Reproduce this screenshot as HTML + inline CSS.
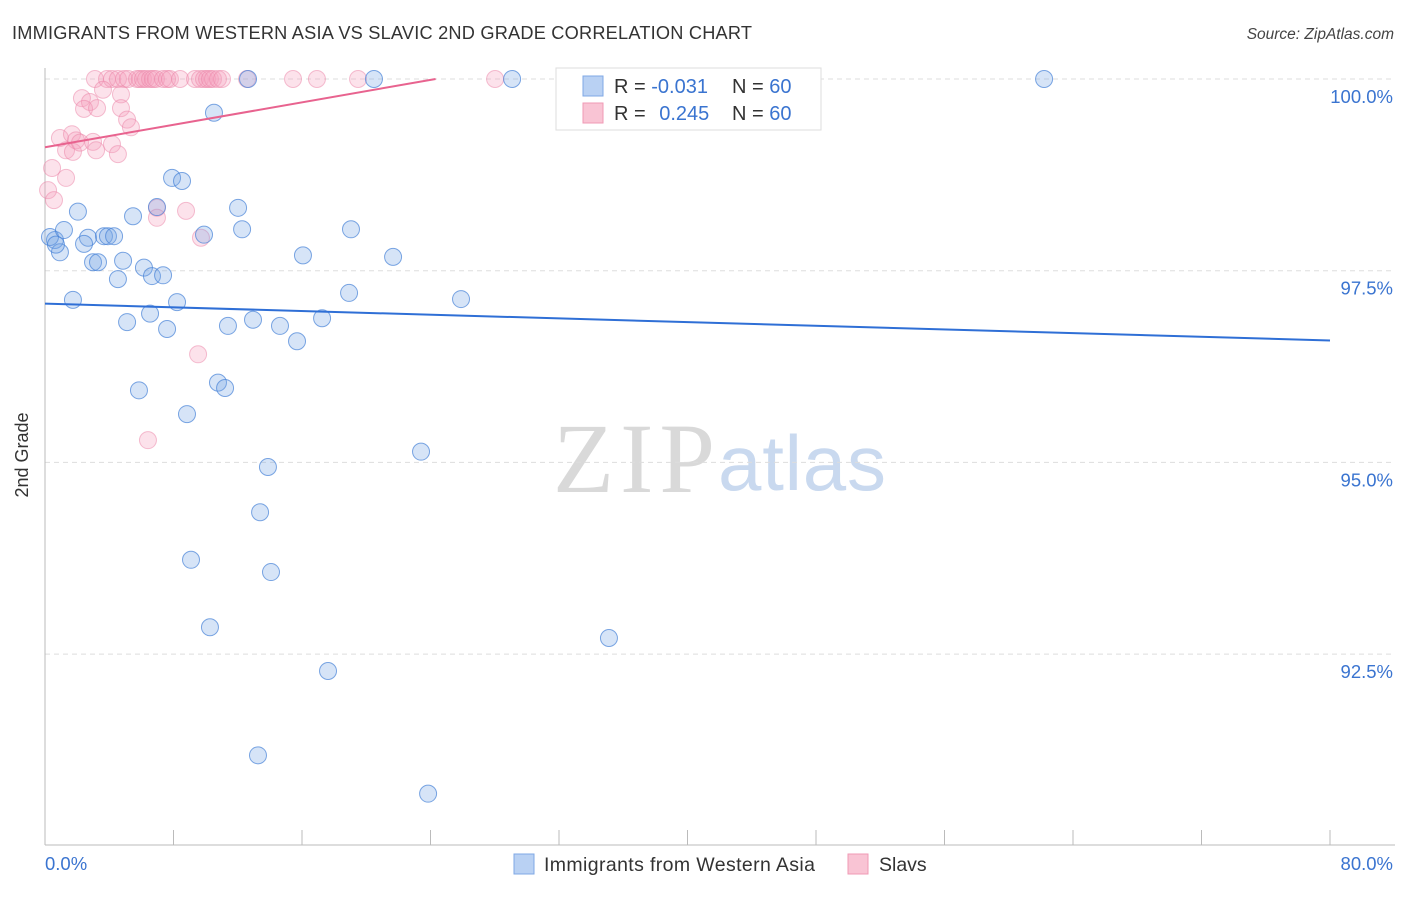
<!DOCTYPE html>
<html><head><meta charset="utf-8"><style>
body{margin:0;background:#fff;font-family:"Liberation Sans",sans-serif;}
</style></head><body>
<svg id="chart" width="1406" height="892" viewBox="0 0 1406 892" font-family="Liberation Sans, sans-serif">
<text x="12" y="39" font-size="18.2" fill="#333" textLength="740">IMMIGRANTS FROM WESTERN ASIA VS SLAVIC 2ND GRADE CORRELATION CHART</text>
<text x="1394" y="39" font-size="15.5" fill="#444" font-style="italic" text-anchor="end">Source: ZipAtlas.com</text>
<g>
<text x="553" y="492" font-size="100" fill="#d9d9d9" style="font-family:'Liberation Serif',serif" textLength="162">ZIP</text>
<text x="718" y="490" font-size="78" fill="#c9d9ef" textLength="168">atlas</text>
</g>
<g id="grid"></g>
<g id="axes"></g>
<g id="marks"></g>
<text x="28" y="455" font-size="18" fill="#333" text-anchor="middle" transform="rotate(-90 28 455)">2nd Grade</text>
<g>
<rect x="556" y="68" width="265" height="62" fill="#fff" stroke="#ddd"/>
<rect x="583" y="76" width="20" height="20" fill="#b9d1f3" stroke="#7fa8e6"/>
<rect x="583" y="103" width="20" height="20" fill="#f9c4d4" stroke="#f09ab5"/>
<text x="614" y="93" font-size="20" fill="#333">R = <tspan fill="#3a74d0">-0.031</tspan></text>
<text x="732" y="93" font-size="20" fill="#333">N = <tspan fill="#3a74d0">60</tspan></text>
<text x="614" y="120" font-size="20" fill="#333">R = <tspan fill="#3a74d0" dx="8">0.245</tspan></text>
<text x="732" y="120" font-size="20" fill="#333">N = <tspan fill="#3a74d0">60</tspan></text>
</g>
<g>
<rect x="514" y="854" width="20" height="20" fill="#b9d1f3" stroke="#7fa8e6"/>
<text x="544" y="871" font-size="19.5" fill="#333" textLength="271">Immigrants from Western Asia</text>
<rect x="848" y="854" width="20" height="20" fill="#f9c4d4" stroke="#f09ab5"/>
<text x="879" y="871" font-size="19.5" fill="#333">Slavs</text>
</g>
</svg>
<script>
const blueX=[0.62,0.93,0.31,2.05,1.18,2.68,2.43,1.74,2.99,3.30,3.67,3.92,4.30,4.54,4.86,5.11,5.48,5.85,6.16,6.54,6.66,6.97,7.35,7.60,7.91,8.22,8.53,8.84,9.09,9.90,10.27,10.52,10.77,11.21,11.39,12.02,12.27,12.64,12.95,13.39,13.88,14.07,14.63,15.69,16.06,17.25,17.62,18.93,19.05,20.48,21.67,23.41,23.85,25.90,29.08,35.11,42.27,62.20,13.26,0.68];
const blueY=[97.90,97.74,97.94,98.27,98.03,97.93,97.85,97.12,97.61,97.61,97.95,97.95,97.95,97.39,97.63,96.83,98.21,95.94,97.54,96.94,97.43,98.33,97.44,96.74,98.71,97.09,98.67,95.63,93.73,97.97,92.85,99.56,96.04,95.97,96.78,98.32,98.04,100,96.86,94.35,94.94,93.57,96.78,96.58,97.70,96.88,92.28,97.21,98.04,100,97.68,95.14,90.68,97.13,100,92.71,100,100,91.18,97.84];
const pinkX=[3.11,3.86,4.17,4.54,4.92,5.17,5.73,5.91,6.10,6.29,6.54,6.72,6.91,7.35,7.60,7.78,8.41,9.34,9.65,9.90,10.09,10.27,10.46,10.77,11.02,12.58,15.44,16.93,19.49,28.02,32.50,2.30,2.80,3.61,4.73,2.43,3.24,4.73,0.93,1.68,1.93,1.31,1.74,2.18,2.99,3.18,4.17,4.54,5.11,5.35,0.44,1.31,0.19,0.56,6.97,6.97,8.78,9.71,9.53,6.41];
const pinkY=[100,100,100,100,100,100,100,100,100,100,100,100,100,100,100,100,100,100,100,100,100,100,100,100,100,100,100,100,100,100,100,99.75,99.70,99.86,99.80,99.61,99.62,99.62,99.23,99.28,99.20,99.07,99.05,99.17,99.18,99.07,99.15,99.02,99.47,99.37,98.84,98.71,98.55,98.42,98.32,98.19,98.28,97.93,96.41,95.29];
const blueTrend=[97.07,-0.006];
const pinkTrend=[99.11,0.0366];
const yTicks=[100,97.5,95,92.5];
const yTickLabels=["100.0%","97.5%","95.0%","92.5%"];
const xTickLabels=["0.0%","80.0%"];

const NS="http://www.w3.org/2000/svg";
const X0=45,X1=1330,YTOP=79,PXPER=191.7/2.5;
function sx(v){return X0+(v/80)*(X1-X0);}
function sy(v){return YTOP+(100-v)*PXPER;}
function mk(tag,attrs,parent){const e=document.createElementNS(NS,tag);for(const k in attrs)e.setAttribute(k,attrs[k]);parent.appendChild(e);return e;}
const grid=document.getElementById('grid'),axes=document.getElementById('axes'),marks=document.getElementById('marks');
yTicks.forEach((t,i)=>{
  const l=mk('line',{x1:X0,x2:1395,y1:sy(t),y2:sy(t),stroke:'#ddd','stroke-dasharray':'5,4'},grid);
  
  
  const tx=mk('text',{x:1393,y:sy(t)+24,'font-size':18.5,fill:'#3a74d0','text-anchor':'end'},axes);
  tx.textContent=yTickLabels[i];
  
  
});
let a=mk('line',{x1:X0,x2:X0,y1:68,y2:845,stroke:'#bbb'},axes);


a=mk('line',{x1:X0,x2:1395,y1:845,y2:845,stroke:'#bbb'},axes);


for(let i=0;i<=10;i++){
  const t=mk('line',{x1:sx(i*8),x2:sx(i*8),y1:830,y2:845,stroke:'#bbb'},axes);
  
  
}
let xl=mk('text',{x:45,y:870,'font-size':18.5,fill:'#3a74d0'},axes);
xl.textContent=xTickLabels[0];


xl=mk('text',{x:1393,y:870,'font-size':18.5,fill:'#3a74d0','text-anchor':'end'},axes);
xl.textContent=xTickLabels[1];



pinkX.forEach((x,i)=>{
  const c=mk('circle',{cx:sx(x),cy:sy(pinkY[i]),r:8.5,fill:'rgba(244,160,188,0.3)',stroke:'rgba(236,130,165,0.5)','stroke-width':1},marks);
  
  
});
blueX.forEach((x,i)=>{
  const c=mk('circle',{cx:sx(x),cy:sy(blueY[i]),r:8.5,fill:'rgba(120,165,230,0.3)',stroke:'rgba(70,130,215,0.7)','stroke-width':1},marks);
  
  
});
let bl=mk('line',{x1:sx(0),y1:sy(blueTrend[0]),x2:sx(80),y2:sy(blueTrend[0]+blueTrend[1]*80),stroke:'#2f6fd6','stroke-width':2},marks);


const pxEnd=Math.min(80,(100-pinkTrend[0])/pinkTrend[1]);
let pl=mk('line',{x1:sx(0),y1:sy(pinkTrend[0]),x2:sx(pxEnd),y2:sy(pinkTrend[0]+pinkTrend[1]*pxEnd),stroke:'#e8638f','stroke-width':2},marks);


</script>
</body></html>
